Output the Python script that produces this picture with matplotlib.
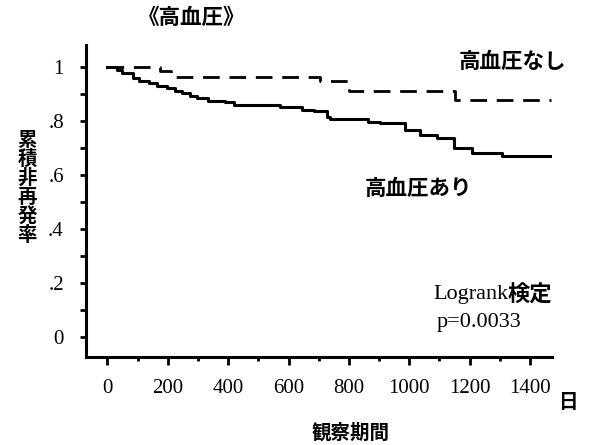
import matplotlib
matplotlib.use("Agg")
import matplotlib.pyplot as plt
from matplotlib.ticker import MultipleLocator, FuncFormatter

SERIF = ["Liberation Serif", "Noto Sans CJK JP"]
GOTHIC = ["Noto Sans CJK JP", "DejaVu Sans"]

# step curves (days, cumulative non-recurrence rate)
days_with = [0, 32, 48, 86, 103, 136, 164, 197, 225, 246, 274, 297, 334,
             391, 418, 573, 644, 683, 727, 738, 864, 904, 987, 1036, 1092,
             1147, 1208, 1307, 1470]
rate_with = [1.0, 0.989, 0.977, 0.96, 0.946, 0.94, 0.93, 0.921, 0.912, 0.902,
             0.893, 0.884, 0.874, 0.868, 0.859, 0.85, 0.841, 0.835, 0.816,
             0.806, 0.797, 0.791, 0.767, 0.748, 0.736, 0.699, 0.68, 0.668,
             0.668]
days_without = [0, 175, 210, 705, 800, 1150, 1470]
rate_without = [1.0, 0.985, 0.964, 0.946, 0.909, 0.876, 0.876]

x_ticks = [0, 200, 400, 600, 800, 1000, 1200, 1400]
y_ticks = [0, 0.2, 0.4, 0.6, 0.8, 1.0]

fig = plt.figure(figsize=(6.06, 4.45), dpi=100)
ax = fig.add_axes([0.142, 0.198, 0.769, 0.701])

ax.step(days_with, rate_with, where="post", color="black", lw=2.2)
ax.step(days_without, rate_without, where="post", color="black", lw=2.0,
        linestyle=(0, (6, 3.5)))

ax.set_xlim(-71, 1473)
ax.set_ylim(-0.074, 1.081)
ax.set_xticks(x_ticks)
ax.xaxis.set_minor_locator(MultipleLocator(100))
ax.set_yticks(y_ticks)
ax.yaxis.set_minor_locator(MultipleLocator(0.1))


def yfmt(v, pos):
    if abs(v) < 1e-9:
        return "0"
    if abs(v - 1) < 1e-9:
        return "1"
    return f"{v:.1f}".lstrip("0")


ax.yaxis.set_major_formatter(FuncFormatter(yfmt))
for lab in ax.get_xticklabels() + ax.get_yticklabels():
    lab.set_family(SERIF)
    lab.set_fontsize(15)
ax.tick_params(axis="x", which="major", length=6, width=2, pad=10)
ax.tick_params(axis="x", which="minor", length=3, width=2)
ax.tick_params(axis="y", which="major", length=4, width=2, pad=12)
ax.tick_params(axis="y", which="minor", length=4, width=2)

for s in ["top", "right"]:
    ax.spines[s].set_visible(False)
for s in ["left", "bottom"]:
    ax.spines[s].set_linewidth(2.2)

fig.text(138 / 606, 1 - 17 / 445, "《高血圧》", family=GOTHIC, fontsize=15.5,
         fontweight="bold", ha="left", va="center")
fig.text(512 / 606, 1 - 61 / 445, "高血圧なし", family=GOTHIC, fontsize=15.5,
         fontweight="bold", ha="center", va="center")
fig.text(418 / 606, 1 - 188 / 445, "高血圧あり", family=GOTHIC, fontsize=15.5,
         fontweight="bold", ha="center", va="center")
fig.text(433 / 606, 1 - 295 / 445, "Logrank", family=SERIF, fontsize=16,
         ha="left", va="center")
fig.text(508 / 606, 1 - 295 / 445, "検定", family=GOTHIC, fontsize=16,
         fontweight="bold", ha="left", va="center")
fig.text(437 / 606, 1 - 322 / 445, "p=0.0033", family=SERIF, fontsize=16,
         ha="left", va="center")
fig.text(569 / 606, 1 - 402 / 445, "日", family=GOTHIC, fontsize=14,
         fontweight="bold", ha="center", va="center")
fig.text(351 / 606, 1 - 433 / 445, "観察期間", family=GOTHIC, fontsize=14,
         fontweight="bold", ha="center", va="center")
fig.text(27 / 606, 1 - 188 / 445, "\n".join("累積非再発率"), family=GOTHIC,
         fontsize=14, fontweight="bold", ha="center", va="center",
         linespacing=1.0)

fig.savefig("out.png", dpi=100, facecolor="white")
